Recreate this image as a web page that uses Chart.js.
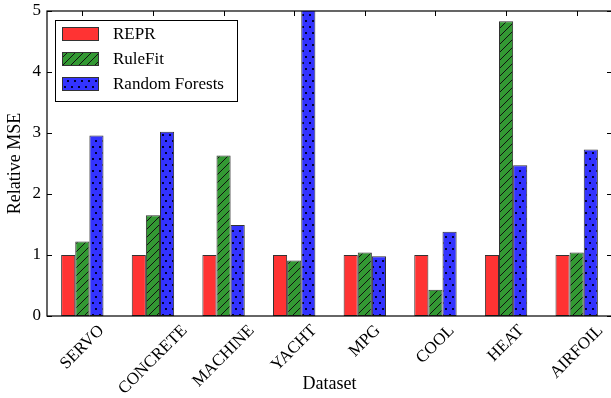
<!DOCTYPE html>
<html>
<head>
<meta charset="utf-8">
<script src="https://cdn.jsdelivr.net/npm/chart.js@4.4.1/dist/chart.umd.min.js"></script>
<style>
  html, body { margin: 0; padding: 0; background: #fff; overflow: hidden; }
  #wrap { position: absolute; left: 0; top: 0; width: 613px; height: 398px; }
</style>
</head>
<body>
<div id="wrap"><canvas id="chart" width="613" height="398"></canvas></div>
<script>
// Data
const datasets = ['SERVO', 'CONCRETE', 'MACHINE', 'YACHT', 'MPG', 'COOL', 'HEAT', 'AIRFOIL'];
const reprValues = [1, 1, 1, 1, 1, 1, 1, 1];
const ruleFitValues = [1.22, 1.65, 2.63, 0.91, 1.04, 0.43, 4.83, 1.04];
const randomForestValues = [2.96, 3.02, 1.49, 5.6, 0.98, 1.38, 2.47, 2.73];
const yTicks = [0, 1, 2, 3, 4, 5];

const FONT = '"Liberation Serif", "Times New Roman", serif';
const EDGE = '#333333';

// Hatch patterns
function hatchPattern(bg) {
  const c = document.createElement('canvas');
  c.width = 8; c.height = 8;
  const g = c.getContext('2d');
  g.fillStyle = bg;
  g.fillRect(0, 0, 8, 8);
  g.strokeStyle = '#111';
  g.lineWidth = 1;
  g.beginPath();
  g.moveTo(-1, 9); g.lineTo(9, -1);
  g.moveTo(-5, 5); g.lineTo(5, -5);
  g.moveTo(3, 13); g.lineTo(13, 3);
  g.stroke();
  return g.createPattern(c, 'repeat');
}

function dotPattern(bg) {
  const c = document.createElement('canvas');
  c.width = 7; c.height = 12;
  const g = c.getContext('2d');
  g.fillStyle = bg;
  g.fillRect(0, 0, 7, 12);
  g.fillStyle = '#000033';
  g.fillRect(1, 2, 2, 2);
  g.fillRect(4, 8, 2, 2);
  return g.createPattern(c, 'repeat');
}

const redFill = '#ff3333';
const greenFill = hatchPattern('#339933');
const blueFill = dotPattern('#3333ff');

// Frame, ticks, rotated x labels and legend
const framePlugin = {
  id: 'frame',
  afterDatasetsDraw(chart) {
    const { ctx, chartArea: a, scales } = chart;
    const x = scales.x, y = scales.y;
    ctx.save();
    ctx.strokeStyle = '#000';
    ctx.lineWidth = 1.2;
    ctx.strokeRect(a.left, a.top, a.right - a.left, a.bottom - a.top);

    ctx.lineWidth = 1;
    ctx.strokeStyle = '#000';
    ctx.beginPath();
    yTicks.forEach(v => {
      const py = Math.round(y.getPixelForValue(v)) + 0.5;
      ctx.moveTo(a.left, py); ctx.lineTo(a.left + 5, py);
      ctx.moveTo(a.right, py); ctx.lineTo(a.right - 5, py);
    });
    datasets.forEach((d, i) => {
      const px = Math.round(x.getPixelForTick(i)) + 0.5;
      ctx.moveTo(px, a.top); ctx.lineTo(px, a.top + 5);
    });
    ctx.stroke();

    // rotated category labels, bounding box centred under tick
    ctx.fillStyle = '#000';
    ctx.font = '17px ' + FONT;
    ctx.textAlign = 'center';
    ctx.textBaseline = 'middle';
    const h = 11.5;
    const c45 = Math.SQRT1_2;
    datasets.forEach((d, i) => {
      const w = ctx.measureText(d).width;
      const cx = x.getPixelForTick(i);
      const cy = a.bottom + 8 + (w + h) * c45 / 2;
      ctx.save();
      ctx.translate(cx, cy);
      ctx.rotate(-Math.PI / 4);
      ctx.fillText(d, 0, 0);
      ctx.restore();
    });

    // legend
    const lx = 55, ly = 20, lw = 182, lh = 81;
    ctx.fillStyle = '#fff';
    ctx.fillRect(lx, ly, lw, lh);
    ctx.strokeStyle = '#000';
    ctx.lineWidth = 1;
    ctx.strokeRect(lx + 0.5, ly + 0.5, lw, lh);
    const rows = [34, 59, 84];
    chart.data.datasets.forEach((ds, i) => {
      const cy = rows[i];
      ctx.fillStyle = ds.backgroundColor;
      ctx.fillRect(62, cy - 7, 37, 14);
      ctx.strokeStyle = EDGE;
      ctx.strokeRect(62.5, cy - 6.5, 36, 13);
      ctx.fillStyle = '#000';
      ctx.font = '17px ' + FONT;
      ctx.textAlign = 'left';
      ctx.textBaseline = 'middle';
      ctx.fillText(ds.label, 113, cy + 1);
    });
    ctx.restore();
  }
};

const ctx = document.getElementById('chart').getContext('2d');
new Chart(ctx, {
  type: 'bar',
  data: {
    labels: datasets,
    datasets: [
      { label: 'REPR', data: reprValues, backgroundColor: redFill },
      { label: 'RuleFit', data: ruleFitValues, backgroundColor: greenFill },
      { label: 'Random Forests', data: randomForestValues, backgroundColor: blueFill },
    ].map(d => Object.assign(d, {
      borderColor: EDGE,
      borderWidth: 1,
      borderSkipped: false,
      categoryPercentage: 0.6,
      barPercentage: 1.0,
    })),
  },
  options: {
    responsive: false,
    animation: false,
    devicePixelRatio: 1,
    layout: { padding: { top: 11, left: 0, right: 1, bottom: 0 } },
    plugins: {
      legend: { display: false },
      tooltip: { enabled: false },
    },
    scales: {
      x: {
        grid: { display: false, drawTicks: false },
        border: { display: false },
        ticks: { display: false },
        title: {
          display: true,
          text: 'Dataset',
          color: '#000',
          font: { family: FONT, size: 18 },
          padding: { top: 0, bottom: 3 },
        },
        afterFit(scale) { scale.height = 82; },
      },
      y: {
        min: 0,
        max: 5,
        grid: { display: false, drawTicks: false },
        border: { display: false },
        ticks: {
          stepSize: 1,
          padding: 6,
          color: '#000',
          font: { family: FONT, size: 17 },
        },
        title: {
          display: true,
          text: 'Relative MSE',
          color: '#000',
          font: { family: FONT, size: 18 },
          padding: { top: 4, bottom: 0 },
        },
        afterFit(scale) {
          scale.width = 47;
          scale.paddingTop = 0;
          scale.paddingBottom = 0;
        },
      },
    },
  },
  plugins: [framePlugin],
});
</script>
</body>
</html>
